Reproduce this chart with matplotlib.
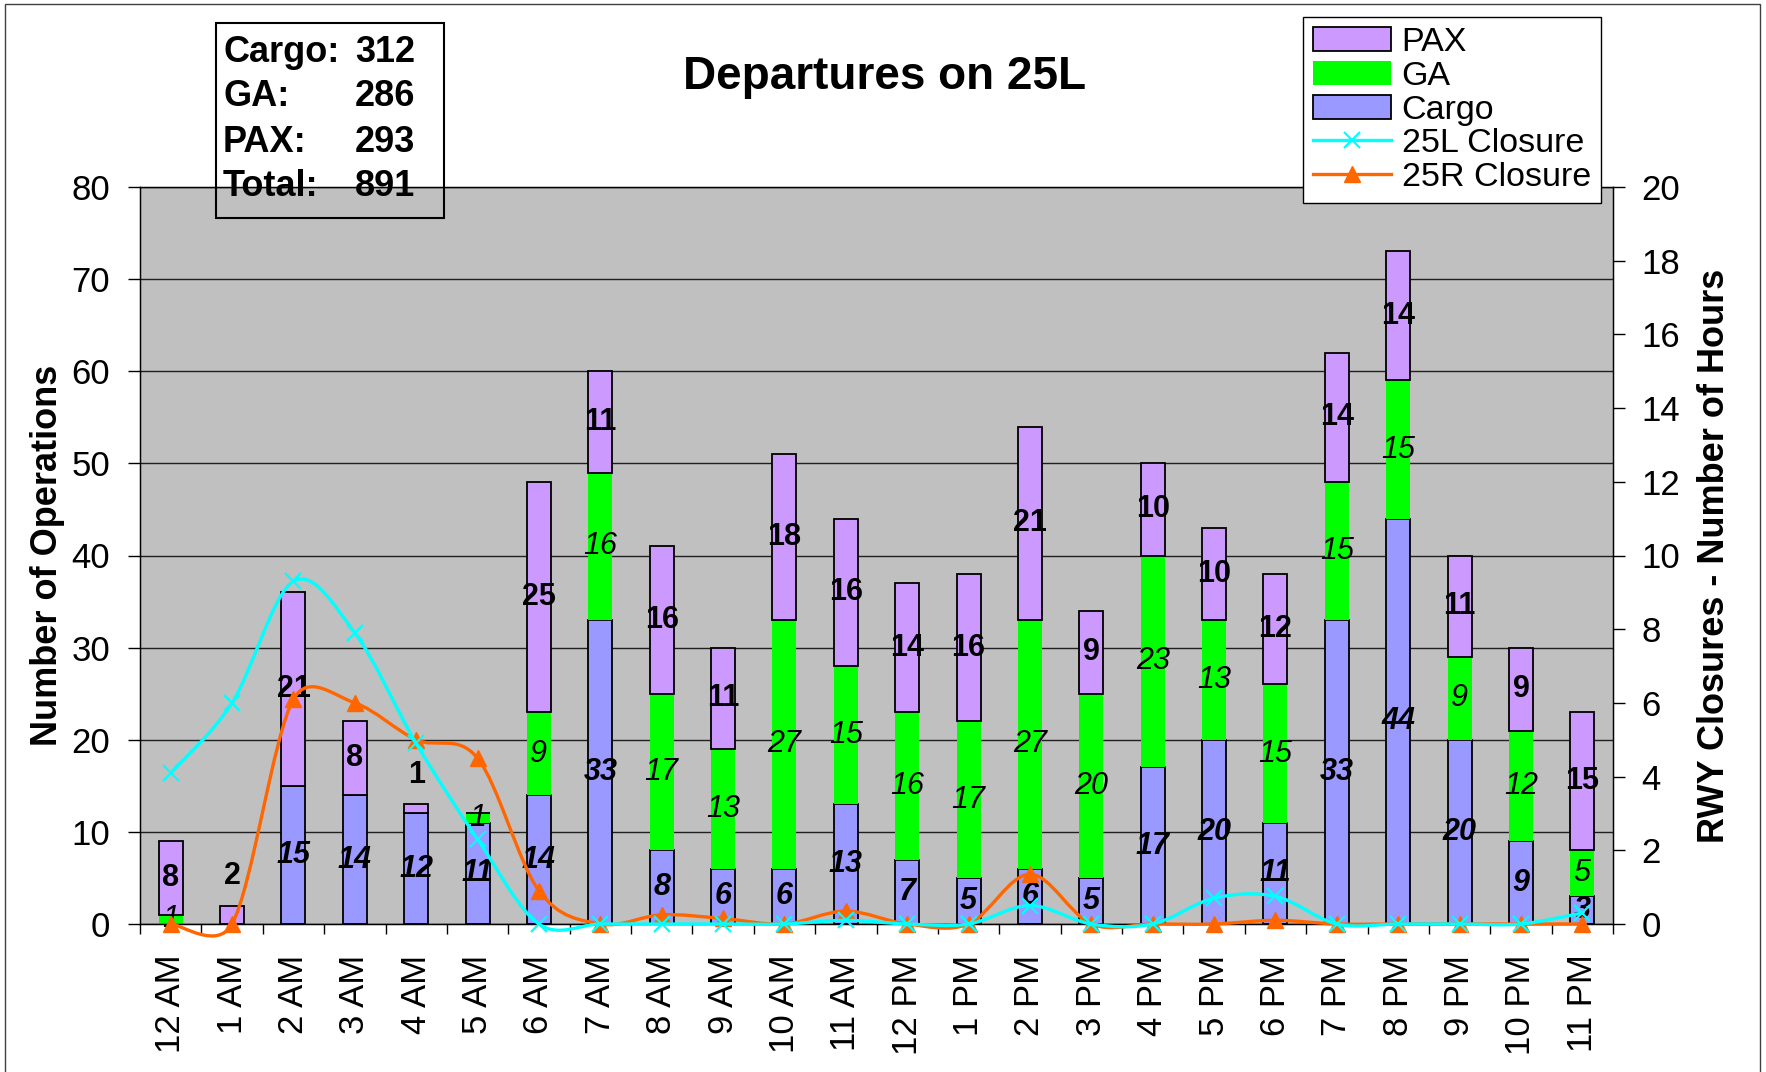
import numpy as np
import matplotlib
matplotlib.use('Agg')
import matplotlib.pyplot as plt
from matplotlib.path import Path
from matplotlib.patches import PathPatch, Rectangle, Patch
from matplotlib.lines import Line2D

plt.rcParams['font.family'] = 'Liberation Sans'

# data
hours = ['12 AM', '1 AM', '2 AM', '3 AM', '4 AM', '5 AM', '6 AM', '7 AM',
         '8 AM', '9 AM', '10 AM', '11 AM', '12 PM', '1 PM', '2 PM', '3 PM',
         '4 PM', '5 PM', '6 PM', '7 PM', '8 PM', '9 PM', '10 PM', '11 PM']
cargo = [0, 0, 15, 14, 12, 11, 14, 33, 8, 6, 6, 13, 7, 5, 6, 5, 17, 20, 11, 33, 44, 20, 9, 3]
ga = [1, 0, 0, 0, 0, 1, 9, 16, 17, 13, 27, 15, 16, 17, 27, 20, 23, 13, 15, 15, 15, 9, 12, 5]
pax = [8, 2, 21, 8, 1, 0, 25, 11, 16, 11, 18, 16, 14, 16, 21, 9, 10, 10, 12, 14, 14, 11, 9, 15]
closure_25l = [4.1, 6.0, 9.3, 7.9, 4.9, 2.3, 0, 0, 0, 0, 0, 0.1, 0, 0, 0.5, 0, 0, 0.7, 0.75, 0, 0, 0, 0, 0.3]
closure_25r = [0, 0, 6.1, 6.0, 5.0, 4.5, 0.9, 0, 0.25, 0.15, 0, 0.35, 0, 0, 1.35, 0, 0, 0, 0.1, 0, 0, 0, 0, 0]
summary_names = ['Cargo:', 'GA:', 'PAX:', 'Total:']
summary_counts = ['312', '286', '293', '891']

c_cargo = '#9999FF'
c_ga = '#00FF00'
c_pax = '#CC99FF'
c_25l = '#00FFFF'
c_25r = '#FF6600'


def smooth_path(axis, xs, ys):
    # excel-style smoothed line: catmull-rom arms (1/6 of neighbour chord),
    # capped at half the segment length, worked out in pixel space
    p = axis.transData.transform(np.column_stack([xs, ys]).astype(float))
    ext = np.vstack([p[0], p, p[-1]])
    verts = [p[0]]
    codes = [Path.MOVETO]
    for i in range(len(p) - 1):
        p0, p1, p2, p3 = ext[i], ext[i + 1], ext[i + 2], ext[i + 3]
        seg = np.hypot(*(p2 - p1))
        a1 = (p2 - p0) / 6
        a2 = (p3 - p1) / 6
        n1, n2 = np.hypot(*a1), np.hypot(*a2)
        if n1 > seg / 2:
            a1 = a1 * (seg / 2) / n1
        if n2 > seg / 2:
            a2 = a2 * (seg / 2) / n2
        verts += [p1 + a1, p2 - a2, p2]
        codes += [Path.CURVE4] * 3
    verts = axis.transData.inverted().transform(np.array(verts))
    return Path(verts, codes)


W, H = 1766, 1072
fig = plt.figure(figsize=(W / 100, H / 100), dpi=100)
ax = fig.add_axes([140 / W, 1 - 924 / H, 1473 / W, 737 / H])
ax.set_facecolor('#C0C0C0')

x = np.arange(len(hours))
cargo = np.array(cargo)
ga = np.array(ga)
pax = np.array(pax)
bw = 0.39
ax.bar(x, cargo, bw, color=c_cargo, edgecolor='black', linewidth=1.3, zorder=2)
ax.bar(x, ga, bw, bottom=cargo, color=c_ga, edgecolor='none', zorder=2)
ax.bar(x, pax, bw, bottom=cargo + ga, color=c_pax, edgecolor='black', linewidth=1.3, zorder=2)

# segment labels
for i in x:
    if cargo[i] > 0:
        ax.text(i, cargo[i] / 2, str(cargo[i]), ha='center', va='center',
                fontsize=22, fontweight='bold', style='italic', zorder=3)
    if ga[i] > 0:
        ax.text(i, cargo[i] + ga[i] / 2, str(ga[i]), ha='center', va='center',
                fontsize=22, style='italic', zorder=3)
    if pax[i] > 0:
        top = cargo[i] + ga[i] + pax[i]
        ypos = top + 3.2 if pax[i] <= 2 else top - pax[i] / 2
        ax.text(i, ypos, str(pax[i]), ha='center', va='center',
                fontsize=22, fontweight='bold', zorder=3)

ax.set_xlim(-0.5, len(hours) - 0.5)
ax.set_ylim(0, 80)
ax.set_yticks(range(0, 81, 10))
ax.yaxis.grid(True, color='#202020', linewidth=1)
ax.set_axisbelow(True)
ax.set_xticks(x)
ax.set_xticklabels(hours, rotation=90)
ax.set_xticks(np.arange(-0.5, len(hours)), minor=True)
ax.tick_params(axis='x', which='major', length=0, pad=22, labelsize=25)
ax.tick_params(axis='x', which='minor', length=7.5, width=1, direction='out')
ax.tick_params(axis='y', length=8.6, width=1, direction='out', pad=13, labelsize=25)
for s in ax.spines.values():
    s.set_color('black')
    s.set_linewidth(1)
ax.set_ylabel('Number of Operations', fontsize=26, fontweight='bold')
ax.yaxis.set_label_coords(-0.051, 0.5)

# closures on the secondary axis
ax2 = ax.twinx()
ax2.set_xlim(-0.5, len(hours) - 0.5)
ax2.set_ylim(0, 20)
ax2.set_yticks(range(0, 21, 2))
ax2.tick_params(axis='y', length=8.6, width=1, direction='out', pad=12, labelsize=25)
ax2.spines['right'].set_color('black')
ax2.set_ylabel('RWY Closures - Number of Hours', fontsize=26, fontweight='bold')
ax2.yaxis.set_label_coords(1.057, 0.5)

ax2.add_patch(PathPatch(smooth_path(ax2, x, closure_25r), fill=False, edgecolor=c_25r,
                        linewidth=2.4, clip_on=False, zorder=4))
ax2.plot(x, closure_25r, ls='none', marker='^', ms=11, color=c_25r, clip_on=False, zorder=5)
ax2.add_patch(PathPatch(smooth_path(ax2, x, closure_25l), fill=False, edgecolor=c_25l,
                        linewidth=2.4, clip_on=False, zorder=6))
ax2.plot(x, closure_25l, ls='none', marker='x', ms=12, mew=1.6, color=c_25l, clip_on=False, zorder=7)

# title
fig.text(885 / W, 1 - 77 / H, 'Departures on 25L', ha='center', va='center',
         fontsize=33, fontweight='bold')

# summary box (no fill)
fig.add_artist(Rectangle((216 / W, 1 - 218 / H), 228 / W, 195 / H, transform=fig.transFigure,
                         fill=False, edgecolor='black', linewidth=1.5, zorder=10))
for k, (name, cnt) in enumerate(zip(summary_names, summary_counts)):
    yy = 1 - (52 + 45 * k) / H
    fig.text(223 / W, yy, name, ha='left', va='center', fontsize=26, fontweight='bold', zorder=11)
    fig.text(355 / W, yy, cnt, ha='left', va='center', fontsize=26, fontweight='bold', zorder=11)

# legend
handles = [Patch(facecolor=c_pax, edgecolor='black', linewidth=1.3),
           Patch(facecolor=c_ga, edgecolor='none'),
           Patch(facecolor=c_cargo, edgecolor='black', linewidth=1.3),
           Line2D([], [], color=c_25l, lw=2.4, marker='x', ms=12, mew=1.6),
           Line2D([], [], color=c_25r, lw=2.4, marker='^', ms=11)]
labels = ['PAX', 'GA', 'Cargo', '25L Closure', '25R Closure']
leg = fig.legend(handles, labels, loc='upper right', bbox_to_anchor=(1601 / W, 1 - 17 / H),
                 fontsize=24.5, frameon=True, fancybox=False, framealpha=1,
                 edgecolor='black', labelspacing=0.08, borderpad=0.3,
                 handlelength=2.3, handletextpad=0.3, borderaxespad=0)
leg.get_frame().set_linewidth(1)
leg.set_zorder(12)

# outer chart border
fig.add_artist(Rectangle((5 / W, -0.01), 1755 / W, 1.01 - 4 / H, transform=fig.transFigure,
                         fill=False, edgecolor='#404040', linewidth=1))

fig.savefig('out.png', dpi=100)
